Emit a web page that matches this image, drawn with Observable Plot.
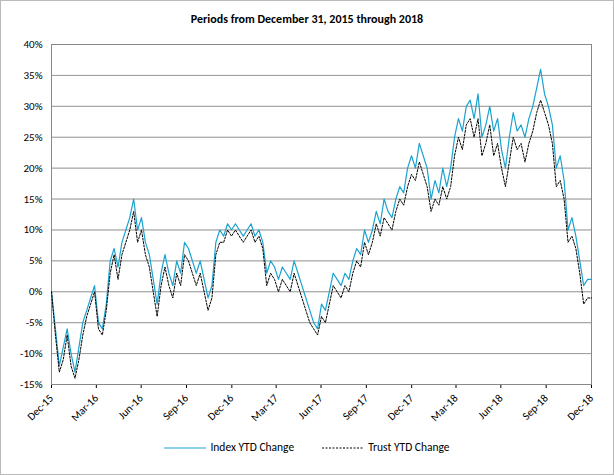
<!DOCTYPE html><html><head>
<script src="https://cdn.jsdelivr.net/npm/d3@7"></script>
<script src="https://cdn.jsdelivr.net/npm/@observablehq/plot@0.6"></script>
<style>body{margin:0;font-family:Calibri,Carlito,"Liberation Sans",Arial,sans-serif;}
#wrap{width:612px;height:473px;border:1px solid #bbb;}
#t{height:35px;line-height:36px;text-align:center;font-weight:bold;font-size:12px;}
#lg{text-align:center;font-size:11.5px;margin-top:6px}
#lg span{display:inline-block;margin:0 14px}
#lg svg{vertical-align:middle;margin-right:4px}</style></head><body>
<div id="wrap"><div id="t">Periods from December 31, 2015 through 2018</div><div id="c"></div>
<div id="lg"><span><svg width="42" height="4"><line x1="0" x2="42" y1="2" y2="2" stroke="#1ba3d0" stroke-width="1.2"/></svg>Index YTD Change</span><span><svg width="42" height="4"><line x1="0" x2="42" y1="2" y2="2" stroke="#000" stroke-dasharray="2,1.5"/></svg>Trust YTD Change</span></div></div>
<script>
const indexVals=[0,-6,-12,-9,-6,-10,-13,-9,-5,-3,-1,1,-5,-6,-2,5,7,4,8,10,12,15,10,12,8,6,2,-2,3,6,3,1,5,3,8,7,5,3,5,2,-1,1,8,10,9,11,10,11,10,9,10,11,9,10,8,3,5,4,2,4,3,2,5,3,1,-1,-3,-5,-6,-2,-3,0,3,2,1,3,2,5,7,6,10,8,10,13,11,15,13,12,15,17,16,20,22,20,24,22,20,15,18,16,20,17,20,25,28,26,30,31,28,32,25,27,30,26,28,23,20,25,29,26,27,25,28,30,33,36,32,30,27,20,22,18,10,12,9,5,1,2,2];
const trustVals=[0,-7,-13,-11,-7,-12,-14,-11,-7,-4,-2,0,-6,-7,-3,3,6,2,6,8,10,13,8,10,6,4,0,-4,1,4,1,-1,3,1,6,5,3,1,3,0,-3,-1,6,8,8,10,9,10,9,8,9,10,8,9,7,1,3,2,0,2,1,0,3,1,-1,-3,-5,-6,-7,-4,-5,-2,1,0,-1,1,0,3,5,4,8,6,8,11,9,12,11,10,13,15,14,17,19,18,21,19,17,13,15,14,17,15,17,22,25,23,27,28,25,28,22,24,27,22,24,20,17,21,25,23,24,21,24,26,29,31,29,27,24,17,18,15,8,9,7,3,-2,-1,-1];
const tickLabels=["Dec-15","Mar-16","Jun-16","Sep-16","Dec-16","Mar-17","Jun-17","Sep-17","Dec-17","Mar-18","Jun-18","Sep-18","Dec-18"];
const yTicks=[-15,-10,-5,0,5,10,15,20,25,30,35,40];
const start=new Date(2015,11,31), end=new Date(2018,11,31);
const n=indexVals.length;
const dates=d3.range(n).map(i=>new Date(+start+i*(end-start)/(n-1)));
const rows=dates.map((d,i)=>({d,idx:indexVals[i]/100,tr:trustVals[i]/100}));
const xt=tickLabels.map(s=>d3.timeParse("%b-%y")(s)).map(d=>d3.timeDay.offset(d3.timeMonth.offset(d,1),-1));
const chart=Plot.plot({width:612,height:398,marginLeft:50,marginRight:22,marginTop:8,marginBottom:50,
style:{fontFamily:"Calibri,Carlito,'Liberation Sans',Arial,sans-serif",fontSize:"11px"},
x:{type:"time",domain:[start,end],ticks:xt,tickFormat:d3.timeFormat("%b-%y"),tickRotate:-45,tickSize:4,label:null},
y:{domain:[-0.15,0.40],ticks:yTicks.map(v=>v/100),tickFormat:d=>Math.round(d*100)+"%",tickSize:0,label:null,grid:true},
marks:[Plot.gridY(yTicks.map(v=>v/100),{stroke:"#999",strokeOpacity:1}),
Plot.frame({stroke:"#888"}),
Plot.lineY(rows,{x:"d",y:"idx",stroke:"#1ba3d0",strokeWidth:1.2}),
Plot.lineY(rows,{x:"d",y:"tr",stroke:"#000",strokeWidth:1,strokeDasharray:"2,1.5"})]});
document.getElementById("c").append(chart);
</script></body></html>
